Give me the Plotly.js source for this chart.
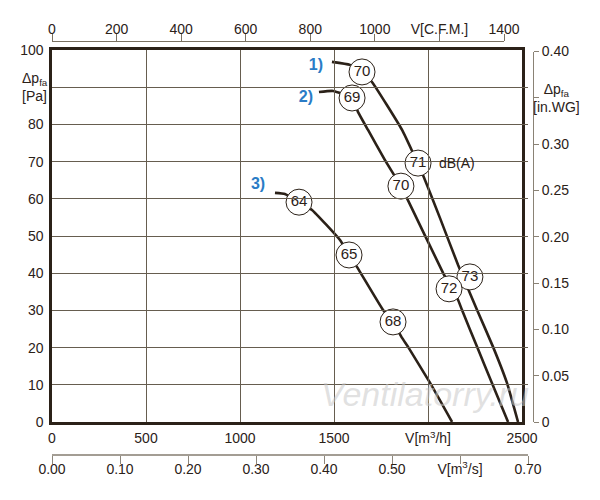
<!DOCTYPE html>
<html>
<head>
<meta charset="utf-8">
<script src="https://cdn.plot.ly/plotly-3.0.1.min.js"></script>
<style>html,body{margin:0;padding:0;background:#fff;}#chart{width:600px;height:500px;}</style>
</head>
<body>
<div id="chart"></div>
<script>
// ---- data (airflow m³/h, static pressure Pa) ----
const curve1X = [1489, 1585, 1649, 1702, 1862, 1973, 2064, 2160, 2261, 2346, 2420, 2479];
const curve1Y = [96.8, 96.0, 94.1, 91.4, 78.5, 66.4, 54.8, 42.2, 30.1, 20.2, 10.5, 0];
const curve2X = [1420, 1495, 1596, 1628, 1681, 1771, 1856, 1888, 2080, 2160, 2181, 2261, 2340, 2426];
const curve2Y = [88.7, 89.0, 87.1, 83.3, 78.5, 70.4, 63.4, 60.2, 40.1, 32.8, 30.1, 20.2, 10.5, 0];
const curve3X = [1186, 1239, 1314, 1383, 1532, 1580, 1622, 1761, 1814, 1862, 1894, 2011, 2128];
const curve3Y = [61.6, 61.3, 59.1, 57.0, 48.9, 44.9, 41.7, 30.1, 26.9, 22.6, 20.2, 10.5, 0];

// sound level labels dB(A)
const dbX = [1649, 1947, 2223, 1596, 1856, 2112, 1314, 1580, 1814];
const dbY = [94.1, 69.6, 39.0, 87.1, 63.4, 35.8, 59.1, 44.9, 26.9];
const dbText = ['70', '71', '73', '69', '70', '72', '64', '65', '68'];

// curve number labels
const numX = [1404, 1351, 1096];
const numY = [95.7, 87.1, 63.7];
const numText = ['1)', '2)', '3)'];

// axis ticks
const m3hVals = [0, 500, 1000, 1500, 2000, 2500];
const m3hText = ['0', '500', '1000', '1500', 'V[m<sup>3</sup>/h]', '2500'];
const paVals = [0, 10, 20, 30, 40, 50, 60, 70, 80, 90, 100];
const paText = ['0', '10', '20', '30', '40', '50', '60', '70', '80', ' ', '100'];
const cfmVals = [0, 200, 400, 600, 800, 1000, 1200, 1400];
const cfmText = ['0', '200', '400', '600', '800', '1000', 'V[C.F.M.]', '1400'];
const m3sVals = [0, 0.1, 0.2, 0.3, 0.4, 0.5, 0.6, 0.7];
const m3sText = ['0.00', '0.10', '0.20', '0.30', '0.40', '0.50', 'V[m<sup>3</sup>/s]', '0.70'];
const wgVals = [0, 0.05, 0.10, 0.15, 0.20, 0.25, 0.30, 0.35, 0.40];
const wgText = ['0', '0.05', '0.10', '0.15', '0.20', '0.25', '0.30', ' ', '0.40'];

const dark = '#2b2118';
const gridC = '#665d4f';
const FONT = 'Liberation Sans, Arial, sans-serif';

const lineStyle = {color: dark, width: 2.6, shape: 'spline', smoothing: 0.4};
const traces = [
  {x: curve1X, y: curve1Y, mode: 'lines', line: lineStyle, hoverinfo: 'skip'},
  {x: curve2X, y: curve2Y, mode: 'lines', line: lineStyle, hoverinfo: 'skip'},
  {x: curve3X, y: curve3Y, mode: 'lines', line: lineStyle, hoverinfo: 'skip'},
  {x: dbX, y: dbY, text: dbText, mode: 'markers+text', textposition: 'middle center',
   textfont: {size: 15, color: dark, family: FONT},
   marker: {symbol: 'circle', size: 26, color: 'white', line: {color: dark, width: 1}}, hoverinfo: 'skip'},
  {x: numX, y: numY, text: numText, mode: 'text', textposition: 'middle center',
   textfont: {size: 16, color: '#2a7cc6', family: FONT, weight: 'bold'}, hoverinfo: 'skip'},
  // secondary axes carriers
  {x: [], y: [], xaxis: 'x2', yaxis: 'y', mode: 'markers', hoverinfo: 'skip'},
  {x: [], y: [], xaxis: 'x3', yaxis: 'y', mode: 'markers', hoverinfo: 'skip'},
  {x: [], y: [], xaxis: 'x', yaxis: 'y2', mode: 'markers', hoverinfo: 'skip'}
];

const yDom = [78 / 500, 450 / 500];
const tickFont = {family: FONT, size: 14, color: dark};

const layout = {
  width: 600, height: 500,
  margin: {l: 0, r: 0, t: 0, b: 0},
  paper_bgcolor: 'white', plot_bgcolor: 'rgba(0,0,0,0)',
  showlegend: false,
  font: {family: FONT, size: 14, color: dark},
  xaxis: {
    domain: [52 / 600, 522 / 600], range: [0, 2500], anchor: 'y',
    tickmode: 'array', tickvals: m3hVals, ticktext: m3hText, tickfont: tickFont,
    showgrid: true, gridcolor: gridC, gridwidth: 1, zeroline: false,
    showline: true, mirror: true, linecolor: dark, linewidth: 2.6, ticks: '', ticklabelstandoff: 2
  },
  yaxis: {
    domain: yDom, range: [0, 100], anchor: 'x',
    tickmode: 'array', tickvals: paVals, ticktext: paText, tickfont: tickFont,
    showgrid: true, gridcolor: gridC, gridwidth: 1, zeroline: false,
    showline: true, mirror: true, linecolor: dark, linewidth: 2.6, ticks: '', ticklabelstandoff: 3
  },
  xaxis2: {
    domain: [52 / 600, 504 / 600], range: [0, 1400], anchor: 'free', position: 459 / 500, side: 'top',
    tickmode: 'array', tickvals: cfmVals, ticktext: cfmText, tickfont: tickFont,
    showgrid: false, zeroline: false, showline: true, linecolor: '#7a7162', linewidth: 1,
    ticks: 'outside', ticklen: 7, tickcolor: '#7a7162', tickwidth: 1, ticklabelstandoff: -6
  },
  xaxis3: {
    domain: [52 / 600, 528 / 600], range: [0, 0.70], anchor: 'free', position: 46 / 500, side: 'bottom',
    tickmode: 'array', tickvals: m3sVals, ticktext: m3sText, tickfont: tickFont,
    showgrid: false, zeroline: false, showline: true, linecolor: '#a39d94', linewidth: 1.5,
    ticks: 'outside', ticklen: 8, tickcolor: '#8d867b', tickwidth: 1, ticklabelstandoff: -6
  },
  yaxis2: {
    domain: [78 / 500, 448.5 / 500], range: [0, 0.40], anchor: 'free', position: 533 / 600, side: 'right',
    tickmode: 'array', tickvals: wgVals, ticktext: wgText, tickfont: tickFont,
    showgrid: false, zeroline: false, showline: true, linecolor: '#8a8275', linewidth: 1,
    ticks: 'outside', ticklen: 5, tickcolor: '#8a8275', tickwidth: 1
  },
  annotations: [
    {xref: 'paper', yref: 'y', x: 20 / 600, y: 90, xanchor: 'left', yanchor: 'middle', align: 'left',
     text: 'Δp<sub>fa</sub><br>[Pa]', showarrow: false, font: {family: FONT, size: 14, color: dark}},
    {xref: 'paper', yref: 'y2', x: 556 / 600, y: 0.35, xanchor: 'center', yanchor: 'middle', align: 'center',
     text: 'Δp<sub>fa</sub><br>[in.WG]', showarrow: false, font: {family: FONT, size: 14, color: dark}},
    {xref: 'x', yref: 'y', x: 2048, y: 69.6, xanchor: 'left', yanchor: 'middle',
     text: 'dB(A)', showarrow: false, font: {family: FONT, size: 14, color: dark}},
    {xref: 'x', yref: 'y', x: 1985, y: 7.5, xanchor: 'center', yanchor: 'middle',
     text: '<i>Ventilatorry.ru</i>', showarrow: false, font: {family: FONT, size: 34, color: 'rgba(200,200,200,0.55)'}}
  ]
};

Plotly.newPlot('chart', traces, layout, {staticPlot: true, displayModeBar: false});
</script>
</body>
</html>
